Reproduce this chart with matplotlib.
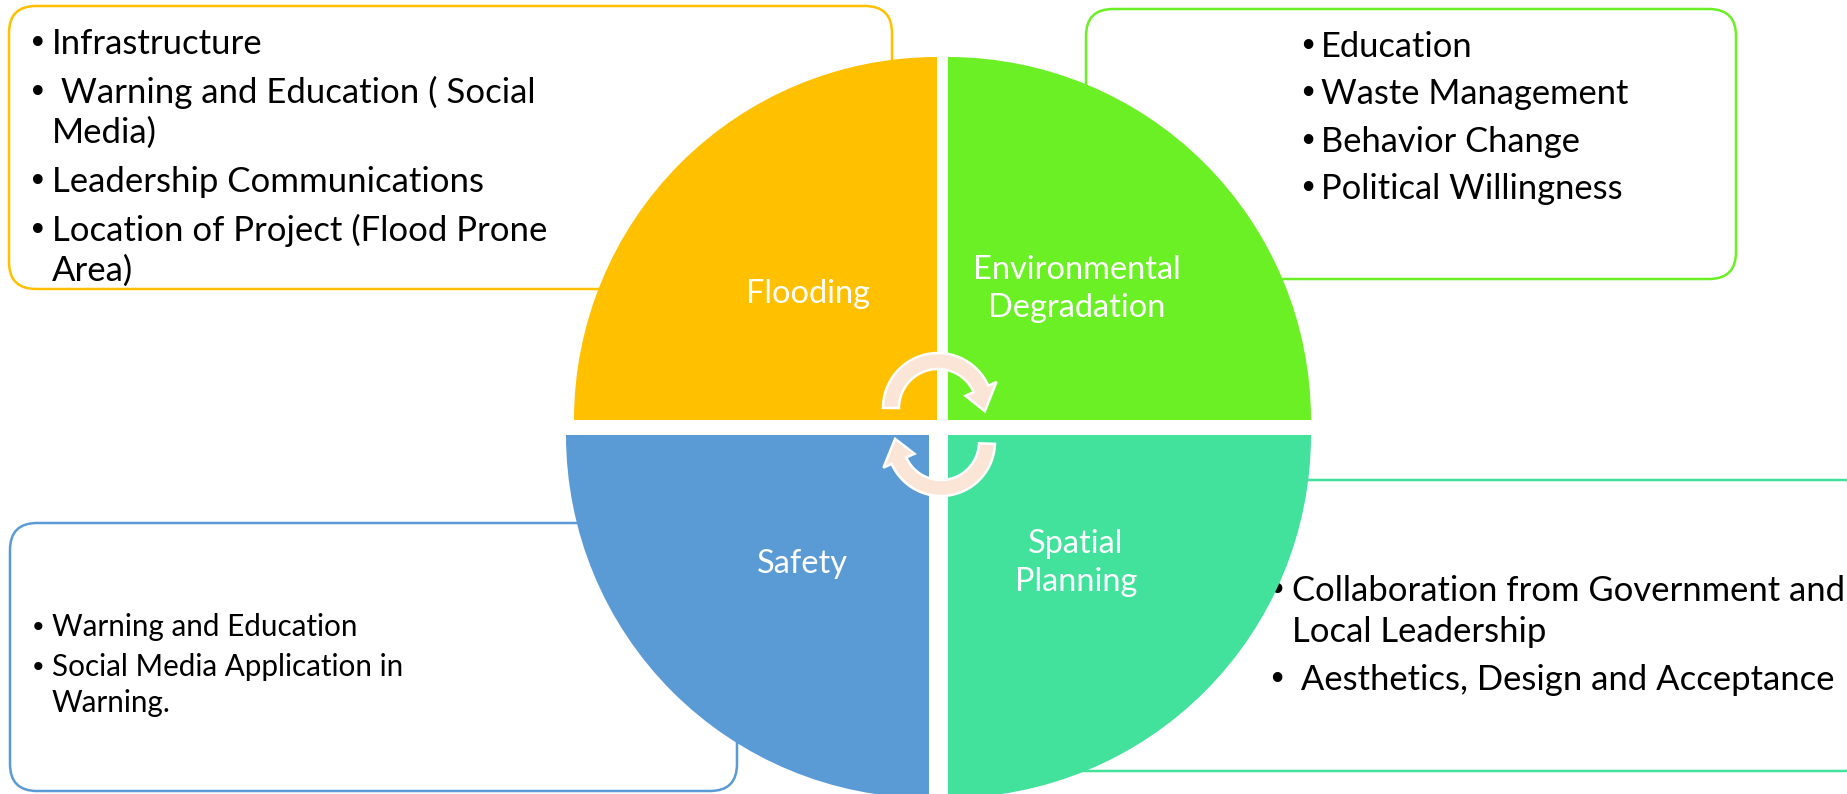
import numpy as np
import matplotlib
matplotlib.use("Agg")
import matplotlib.pyplot as plt
from matplotlib.patches import Wedge, FancyBboxPatch, Polygon
from matplotlib.textpath import TextPath
from matplotlib.font_manager import FontProperties

W, H, DPI = 1847, 794, 100
FONT = ['Lato', 'DejaVu Sans']

# --- content ---
labels = ["Flooding", "Environmental\nDegradation", "Safety", "Spatial\nPlanning"]
colors = ["#FFC000", "#6AF024", "#5B9BD5", "#42E19C"]
arrow_fill = "#FBE5D6"

flooding_items = ["Infrastructure",
                  " Warning and Education ( Social\nMedia)",
                  "Leadership Communications",
                  "Location of Project (Flood Prone\nArea)"]
environment_items = ["Education", "Waste Management", "Behavior Change", "Political Willingness"]
safety_items = ["Warning and Education", "Social Media Application in\nWarning."]
spatial_items = ["Collaboration from Government and\nLocal Leadership",
                 " Aesthetics, Design and Acceptance"]


def fit_size(s, target_px):
    # font size (pt) so that the ink width of s is target_px
    w = TextPath((0, 0), s, size=1, prop=FontProperties(family=FONT)).get_extents().width
    return target_px * 72 / (DPI * w)


def bullets(ax, items, xb, xt, y0, para, line, size):
    y = y0
    for it in items:
        ax.text(xb, y, "\u2022", ha="center", va="baseline", fontsize=size * 0.95,
                family="DejaVu Sans", zorder=2)
        for ln in it.split("\n"):
            ax.text(xt, y, ln, ha="left", va="baseline", fontsize=size, family=FONT, zorder=2)
            y += line
        y += para - line


def circ_arrow(ax, cx, cy, r, a0, a1, tip_a, half_w=8, head_w=17):
    t = np.radians(np.linspace(a0, a1, 80))
    outer = np.c_[cx + (r + half_w) * np.cos(t), cy - (r + half_w) * np.sin(t)]
    inner = np.c_[cx + (r - half_w) * np.cos(t), cy - (r - half_w) * np.sin(t)][::-1]
    e, ta = np.radians(a1), np.radians(tip_a)
    head = np.array([[cx + (r + head_w) * np.cos(e), cy - (r + head_w) * np.sin(e)],
                     [cx + r * np.cos(ta), cy - r * np.sin(ta)],
                     [cx + (r - head_w) * np.cos(e), cy - (r - head_w) * np.sin(e)]])
    pts = np.vstack([outer, head, inner])
    ax.add_patch(Polygon(pts, closed=True, fc=arrow_fill, ec="white", lw=1.8, zorder=6))


fig = plt.figure(figsize=(W / DPI, H / DPI), dpi=DPI)
ax = fig.add_axes([0, 0, 1, 1])
ax.set_xlim(0, W)
ax.set_ylim(H, 0)
ax.axis("off")

# --- text boxes behind the circle ---
boxes = [(9, 6, 883, 283), (1086, 9, 650, 270), (10, 523, 727, 268), (1010, 480, 860, 291)]
for (x, y, w, h), c in zip(boxes, colors):
    ax.add_patch(FancyBboxPatch((x, y), w, h, boxstyle="round,pad=0,rounding_size=27",
                                fc="white", ec=c, lw=1.8, zorder=1))

s_tl = fit_size("Leadership Communications", 426)
s_tr = fit_size("Political Willingness", 297)
s_bl = fit_size("Social Media Application in", 348)
s_br = fit_size("Collaboration from Government and", 548)

bullets(ax, flooding_items, 37.5, 52, 54, 49, 40, s_tl)
bullets(ax, environment_items, 1307.5, 1321, 57, 47.3, 40, s_tr)
bullets(ax, safety_items, 38, 52, 636, 40, 36, s_bl)
bullets(ax, spatial_items, 1277, 1292, 601, 48, 40.5, s_br)

# --- four quarter circles ---
R = 363
corners = [(937, 420), (948, 420), (929, 435), (948, 435)]
angles = [(180, 270), (270, 360), (90, 180), (0, 90)]
for (cx, cy), (a1, a2), c in zip(corners, angles, colors):
    ax.add_patch(Wedge((cx, cy), R, a1, a2, fc=c, ec="none", zorder=3))

s_lab = fit_size("Environmental", 202)
label_pos = [(808, 303), (1077, 279), (802, 573), (1076, 553)]
for (x, y), t in zip(label_pos, labels):
    for k, ln in enumerate(t.split("\n")):
        ax.text(x, y + k * 38, ln, ha="center", va="baseline", color="white",
                fontsize=s_lab, family=FONT, zorder=4)

# --- cycle arrows in the middle ---
circ_arrow(ax, 938, 408, 47, 180, 24, -4)
circ_arrow(ax, 941, 442, 46, -2, -156, -184)

fig.savefig("out.png", dpi=DPI)
